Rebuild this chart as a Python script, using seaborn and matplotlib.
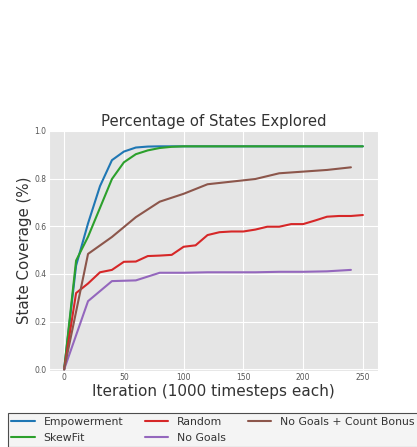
import numpy as np
import pandas as pd
import matplotlib
matplotlib.use("Agg")
import matplotlib.pyplot as plt
import seaborn as sns

# Iteration grids (x1000 timesteps)
iters_10 = list(range(0, 251, 10))
iters_20 = list(range(0, 241, 20))

empowerment = [0.0, 0.435, 0.612, 0.768, 0.877, 0.913, 0.930, 0.934, 0.935, 0.935,
               0.935, 0.935, 0.935, 0.935, 0.935, 0.935, 0.935, 0.935, 0.935, 0.935,
               0.935, 0.935, 0.935, 0.935, 0.935, 0.935]
skewfit = [0.0, 0.456, 0.556, 0.677, 0.798, 0.868, 0.902, 0.918, 0.928, 0.933,
           0.935, 0.935, 0.935, 0.935, 0.935, 0.935, 0.935, 0.935, 0.935, 0.935,
           0.935, 0.935, 0.935, 0.935, 0.935, 0.935]
random_goals = [0.0, 0.320, 0.360, 0.407, 0.417, 0.451, 0.452, 0.475, 0.477, 0.480,
                0.514, 0.520, 0.563, 0.575, 0.578, 0.578, 0.586, 0.598, 0.598, 0.609,
                0.609, 0.624, 0.640, 0.643, 0.643, 0.647]
no_goals = [0.0, 0.286, 0.370, 0.373, 0.405, 0.405, 0.407, 0.407, 0.407, 0.409,
            0.409, 0.411, 0.417]
no_goals_count = [0.0, 0.484, 0.555, 0.638, 0.703, 0.736, 0.776, 0.787, 0.798, 0.822,
                  0.829, 0.836, 0.847]

methods = ["Empowerment", "SkewFit", "Random", "No Goals", "No Goals + Count Bonus"]
colors = ["#1f77b4", "#2ca02c", "#d62728", "#9467bd", "#8c564b"]

frames = [
    pd.DataFrame({"iteration": iters_10, "coverage": empowerment, "method": methods[0]}),
    pd.DataFrame({"iteration": iters_10, "coverage": skewfit, "method": methods[1]}),
    pd.DataFrame({"iteration": iters_10, "coverage": random_goals, "method": methods[2]}),
    pd.DataFrame({"iteration": iters_20, "coverage": no_goals, "method": methods[3]}),
    pd.DataFrame({"iteration": iters_20, "coverage": no_goals_count, "method": methods[4]}),
]
df = pd.concat(frames, ignore_index=True)

sns.set_style("darkgrid", {
    "axes.facecolor": "#E5E5E5",
    "grid.color": "white",
    "axes.edgecolor": "white",
    "xtick.color": "#555555",
    "ytick.color": "#555555",
})
plt.rcParams["font.family"] = ["DejaVu Sans"]

fig = plt.figure(figsize=(4.17, 4.47), dpi=100)
ax = fig.add_axes([0.118, 0.171, 0.788, 0.539])

sns.lineplot(data=df, x="iteration", y="coverage", hue="method",
             hue_order=methods, palette=colors, linewidth=1.5, ax=ax)

ax.set_ylim(-0.005, 1.005)
ax.set_xticks([0, 50, 100, 150, 200, 250])
ax.set_yticks([0.0, 0.2, 0.4, 0.6, 0.8, 1.0])
ax.tick_params(axis="both", labelsize=5.5, pad=2, length=0)
ax.set_title("Percentage of States Explored", fontsize=10.7, color="#333333", pad=2.5)
ax.set_xlabel("Iteration (1000 timesteps each)", fontsize=11, color="#333333", labelpad=1)
ax.set_ylabel("State Coverage (%)", fontsize=10.8, color="#333333", labelpad=1.5)

handles, labels = ax.get_legend_handles_labels()
ax.get_legend().remove()
leg = fig.legend(handles, labels, ncol=3, loc="upper left",
                 bbox_to_anchor=(0.018, 0.076), bbox_transform=fig.transFigure,
                 fontsize=7.8, frameon=True, fancybox=False,
                 handlelength=2.15, handletextpad=0.83, columnspacing=2.0,
                 borderaxespad=0, borderpad=0.35, labelspacing=0.55)
leg.get_frame().set_edgecolor("#222222")
leg.get_frame().set_facecolor("#F2F2F2")
leg.get_frame().set_linewidth(0.8)
for text in leg.get_texts():
    text.set_color("#333333")

fig.savefig("out.png", dpi=100)
